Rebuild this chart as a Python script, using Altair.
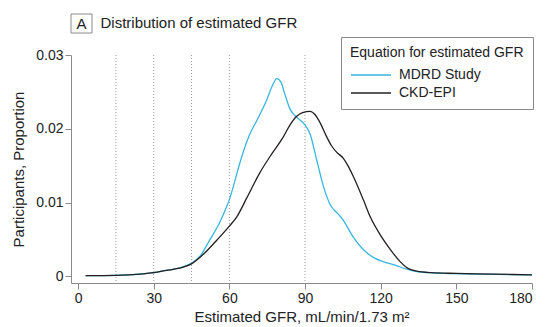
import altair as alt
import pandas as pd

# ---- data ----
mdrd_x = [3, 10, 20, 30, 35, 40, 45, 48.5, 52, 56, 58, 60, 62, 64, 68, 71, 74.8, 77, 78.8, 80.5, 82, 84, 86, 88,
          90, 92, 94.6, 97.3, 100, 103, 105, 109, 114.5, 118, 121, 126, 130, 135, 145, 160, 180]
mdrd_y = [0.0001, 0.0001, 0.0002, 0.0005, 0.0008, 0.0011, 0.0018, 0.0028, 0.0048, 0.0072, 0.0087, 0.0104, 0.0127,
          0.0152, 0.0192, 0.0212, 0.0239, 0.0258, 0.0268, 0.0263, 0.0247, 0.0227, 0.0218, 0.0212, 0.0205,
          0.0193, 0.0158, 0.0122, 0.0097, 0.0085, 0.0077, 0.0054, 0.0032, 0.0024, 0.002, 0.0015, 0.001,
          0.0006, 0.0004, 0.0003, 0.0002]

ckd_x = [3, 10, 20, 30, 35, 40, 45, 50, 55, 60, 63, 67, 72, 77, 81.4, 84, 86.7, 89, 92, 94, 96, 98.6, 100.5,
         102.6, 105.2, 107, 109.2, 113.1, 115.8, 119.7, 123.7, 127.7, 130.3, 134.3, 140, 150, 165, 180]
ckd_y = [0.0001, 0.0001, 0.0002, 0.0005, 0.0008, 0.0011, 0.0017, 0.0031, 0.0049, 0.0068, 0.0081, 0.0107, 0.014,
         0.0167, 0.0189, 0.0205, 0.0217, 0.0222, 0.02235, 0.0219, 0.0208, 0.0189, 0.0177, 0.0168, 0.016,
         0.015, 0.0135, 0.0104, 0.0081, 0.0057, 0.0037, 0.002, 0.0012, 0.0007, 0.0005, 0.0004, 0.0003, 0.0002]

series_names = ["MDRD Study", "CKD-EPI"]
series_colors = ["#38b6de", "#231f20"]
ref_lines = [15, 30, 45, 60, 90]
x_ticks = [0, 30, 60, 90, 120, 150, 180]
y_ticks = [0, 0.01, 0.02, 0.03]
panel_letter = "A"
panel_title = "Distribution of estimated GFR"
legend_title = "Equation for estimated GFR"
x_title = "Estimated GFR, mL/min/1.73 m²"
y_title = "Participants, Proportion"

FONT = "Liberation Sans"
W, H = 461, 228

curves = pd.concat([
    pd.DataFrame({"gfr": mdrd_x, "p": mdrd_y, "eq": series_names[0]}),
    pd.DataFrame({"gfr": ckd_x, "p": ckd_y, "eq": series_names[1]}),
])
refs = pd.DataFrame({"gfr": ref_lines})
titles = pd.DataFrame({"letter": [panel_letter], "title": [panel_title]})

xscale = alt.Scale(domain=[-2.8, 180], nice=False, zero=False)
yscale = alt.Scale(domain=[-0.0009, 0.03], nice=False, zero=False)

rules = alt.Chart(refs).mark_rule(color="#9a9a9a", strokeDash=[1, 2], strokeWidth=1).encode(
    x=alt.X("gfr:Q", scale=xscale),
    y=alt.value(0),
    y2=alt.value(H),
)

lines = alt.Chart(curves).mark_line(interpolate="monotone", strokeWidth=1.3).encode(
    x=alt.X("gfr:Q", scale=xscale,
            axis=alt.Axis(values=x_ticks, title=x_title, titlePadding=4)),
    y=alt.Y("p:Q", scale=yscale,
            axis=alt.Axis(values=y_ticks, title=y_title, titlePadding=9,
                          labelExpr="datum.value == 0 ? '0' : format(datum.value, '.2f')")),
    color=alt.Color("eq:N", scale=alt.Scale(domain=series_names, range=series_colors),
                    sort=series_names, title=legend_title,
                    legend=alt.Legend(orient="none", legendX=270, legendY=-18)),
)

box = alt.Chart(titles).mark_rect(fill="white", stroke="#8a8a8a", strokeWidth=1).encode(
    x=alt.value(0), x2=alt.value(21), y=alt.value(-41), y2=alt.value(-22))
letter = alt.Chart(titles).mark_text(font=FONT, fontSize=15, color="#222", align="center",
                                     baseline="middle").encode(
    x=alt.value(10.5), y=alt.value(-31), text="letter:N")
ttl = alt.Chart(titles).mark_text(font=FONT, fontSize=15, color="#222", align="left",
                                  baseline="alphabetic").encode(
    x=alt.value(29.5), y=alt.value(-27.5), text="title:N")

chart = alt.layer(rules, lines, box, letter, ttl).properties(
    width=W, height=H,
    autosize=alt.AutoSizeParams(type="none"),
    padding={"left": 63, "top": 47, "right": 8, "bottom": 44},
).configure_view(stroke=None).configure_axis(
    grid=False, domainColor="#8a8a8a", tickColor="#8a8a8a", tickSize=6,
    labelFont=FONT, labelFontSize=14, labelColor="#222", labelPadding=2,
    titleFont=FONT, titleFontSize=15, titleFontWeight="normal", titleColor="#222",
).configure_legend(
    padding=9, strokeColor="#8a8a8a", fillColor="white",
    titleFont=FONT, titleFontSize=14, titleFontWeight="normal", titleColor="#222", titlePadding=4,
    labelFont=FONT, labelFontSize=14, labelColor="#222", labelOffset=27,
    symbolType="M-1,0L3,0", symbolSize=400, symbolStrokeWidth=1.3, rowPadding=0,
)

chart.save("out.html", embed_options={"renderer": "svg", "actions": False})
